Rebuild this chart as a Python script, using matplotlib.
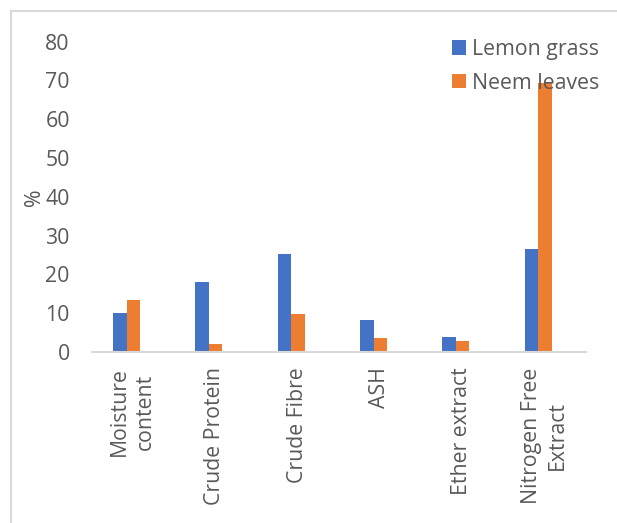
import matplotlib.pyplot as plt
import matplotlib.transforms as mtransforms
import numpy as np
from matplotlib.lines import Line2D

categories = ['Moisture\ncontent', 'Crude Protein', 'Crude Fibre', 'ASH', 'Ether extract', 'Nitrogen Free\nExtract']
lemon_grass = [10.0, 18.1, 25.2, 8.2, 3.8, 26.5]
neem_leaves = [13.4, 2.1, 9.8, 3.7, 2.8, 69.4]
y_ticks = [0, 10, 20, 30, 40, 50, 60, 70, 80]

plt.rcParams['font.family'] = ['Open Sans', 'DejaVu Sans']
text_col = '#595959'
fs = 15.3

fig = plt.figure(figsize=(6.17, 5.23), dpi=100)
ax = fig.add_axes([92 / 617, 1 - 352 / 523, (586 - 92) / 617, (352 - 41.7) / 523])

x = np.arange(len(categories))
w = 0.164
ax.bar(x - w / 2, lemon_grass, w, color='#4472c4', label='Lemon grass')
ax.bar(x + w / 2, neem_leaves, w, color='#ed7d31', label='Neem leaves')

ax.set_xlim(-0.42, 5.58)
ax.set_ylim(0, 80)
ax.set_yticks(y_ticks)
ax.set_xticks(x)
ax.set_xticklabels(categories, rotation=90, va='top', ha='center', multialignment='center', linespacing=1.3)
ax.tick_params(axis='y', length=0, pad=16, labelsize=fs, labelcolor=text_col)
ax.tick_params(axis='x', length=0, pad=11, labelsize=fs, labelcolor=text_col)

# excel places category labels a little right of the bar groups
shift = mtransforms.ScaledTranslation(6 / 100, 0, fig.dpi_scale_trans)
for lbl in ax.get_xticklabels():
    lbl.set_transform(lbl.get_transform() + shift)

for s in ['top', 'right', 'left']:
    ax.spines[s].set_visible(False)
ax.spines['bottom'].set_color('#d9d9d9')
ax.spines['bottom'].set_linewidth(1.5)

ax.set_ylabel('%', fontsize=fs, color=text_col, labelpad=0)

ax.legend(loc='upper left', bbox_to_anchor=(452 / 617, 1 - 39 / 523), bbox_transform=fig.transFigure,
          frameon=False, fontsize=fs, labelcolor=text_col, handlelength=0.65, handleheight=0.65,
          handletextpad=0.3, labelspacing=0.6, borderaxespad=0, borderpad=0)

# chart area border (only top and left visible in the crop)
fig.add_artist(Line2D([11 / 617, 11 / 617], [0, 1 - 11 / 523], transform=fig.transFigure, color='#d9d9d9', lw=1.5))
fig.add_artist(Line2D([11 / 617, 1], [1 - 11 / 523, 1 - 11 / 523], transform=fig.transFigure, color='#d9d9d9', lw=1.5))

fig.savefig('out.png', dpi=100)
